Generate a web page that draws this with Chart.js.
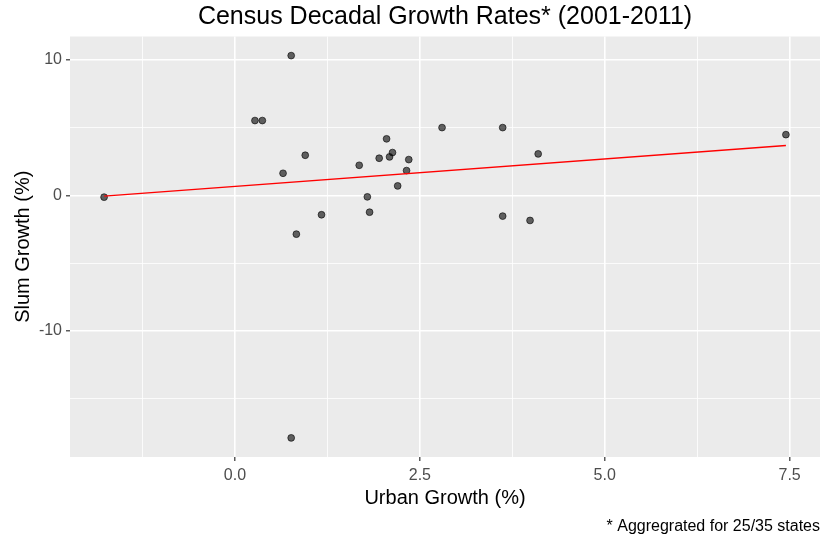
<!DOCTYPE html>
<html>
<head>
<meta charset="utf-8">
<script src="https://cdn.jsdelivr.net/npm/chart.js@4.4.1/dist/chart.umd.min.js"></script>
<style>
  html, body { margin: 0; padding: 0; background: #fff; }
</style>
</head>
<body>
<canvas id="chart" width="820" height="543"></canvas>
<script>
// state-level decadal growth, 2001-2011 (%)
const urbanGrowth = [-1.77, 0.76, 0.27, 0.37, 0.95, 0.65, 1.17, 0.83, 0.76, 1.68, 2.05, 1.95, 2.09,
                     2.13, 2.35, 2.32, 2.20, 1.79, 1.82, 2.80, 3.62, 3.62, 4.10, 3.99, 7.45];
const slumGrowth  = [-0.12, 10.32, 5.53, 5.53, 2.97, 1.64, -1.42, -2.85, -17.88, 2.23, 4.18, 2.75, 2.85,
                     3.17, 2.65, 1.84, 0.71, -0.10, -1.23, 5.01, 5.01, -1.52, 3.07, -1.84, 4.49];

const xMajor = [0, 2.5, 5, 7.5];
const xMinor = [-1.25, 1.25, 3.75, 6.25];
const yMajor = [-10, 0, 10];
const yMinor = [-15, -5, 5];

const FONT = "'Liberation Sans', Arial, sans-serif";

// least squares fit, drawn over the data range
function fit(xs, ys) {
  const n = xs.length;
  const mx = xs.reduce((a, b) => a + b, 0) / n;
  const my = ys.reduce((a, b) => a + b, 0) / n;
  let sxy = 0, sxx = 0;
  for (let i = 0; i < n; i++) {
    sxy += (xs[i] - mx) * (ys[i] - my);
    sxx += (xs[i] - mx) * (xs[i] - mx);
  }
  const b = sxy / sxx;
  return { a: my - b * mx, b: b };
}
const lm = fit(urbanGrowth, slumGrowth);
const xLo = Math.min(...urbanGrowth), xHi = Math.max(...urbanGrowth);
const yLo = Math.min(...slumGrowth), yHi = Math.max(...slumGrowth);

// 5% padding on each side of the data, like ggplot
const xPad = (xHi - xLo) * 0.05, yPad = (yHi - yLo) * 0.05;

const points = urbanGrowth.map((x, i) => ({ x: x, y: slumGrowth[i] }));
const fitLine = [xLo, xHi].map(x => ({ x: x, y: lm.a + lm.b * x }));

const panelBg = {
  id: 'panelBg',
  beforeDraw(chart) {
    const { ctx, chartArea: a } = chart;
    ctx.save();
    ctx.fillStyle = '#fff';
    ctx.fillRect(0, 0, chart.width, chart.height);
    ctx.fillStyle = '#EBEBEB';
    ctx.fillRect(a.left, a.top, a.right - a.left, a.bottom - a.top);
    ctx.restore();
  }
};

const isMajor = (list, v) => list.some(m => Math.abs(m - v) < 1e-9);

function gridFor(major) {
  return {
    color: '#ffffff',
    lineWidth: c => isMajor(major, c.tick.value) ? 1.6 : 0.8,
    drawTicks: true,
    tickLength: 4,
    tickWidth: 1.2,
    tickColor: c => isMajor(major, c.tick.value) ? '#333333' : 'rgba(0,0,0,0)'
  };
}

new Chart(document.getElementById('chart'), {
  type: 'scatter',
  data: {
    datasets: [
      {
        type: 'line',
        data: fitLine,
        borderColor: '#FF0000',
        borderWidth: 1.3,
        pointRadius: 0,
        fill: false
      },
      {
        data: points,
        pointRadius: 3.4,
        backgroundColor: 'rgba(0,0,0,0.6)',
        borderColor: 'rgba(0,0,0,0.6)',
        borderWidth: 1
      }
    ]
  },
  options: {
    responsive: false,
    animation: false,
    layout: { padding: 0, autoPadding: false },
    plugins: {
      legend: { display: false },
      tooltip: { enabled: false },
      title: {
        display: true,
        fullSize: false,
        text: 'Census Decadal Growth Rates* (2001-2011)',
        color: '#000',
        font: { family: FONT, size: 25, weight: 'normal' },
        padding: { top: 2, bottom: 4.5 }
      },
      subtitle: {
        display: true,
        position: 'bottom',
        align: 'end',
        text: '* Aggregrated for 25/35 states',
        color: '#000',
        font: { family: FONT, size: 16 },
        padding: { top: 0, bottom: 7 }
      }
    },
    scales: {
      x: {
        type: 'linear',
        min: xLo - xPad,
        max: xHi + xPad,
        afterBuildTicks: s => { s.ticks = xMajor.concat(xMinor).sort((p, q) => p - q).map(v => ({ value: v })); },
        afterFit: s => { s.height = 59.8; },
        border: { display: false },
        grid: gridFor(xMajor),
        ticks: {
          autoSkip: false,
          maxRotation: 0,
          padding: 5,
          color: '#4D4D4D',
          font: { family: FONT, size: 16 },
          callback: v => isMajor(xMajor, v) ? v.toFixed(1) : ''
        },
        title: {
          display: true,
          text: 'Urban Growth (%)',
          color: '#000',
          font: { family: FONT, size: 20 },
          padding: { top: 0, bottom: 6.3 }
        }
      },
      y: {
        type: 'linear',
        min: yLo - yPad,
        max: yHi + yPad,
        afterBuildTicks: s => { s.ticks = yMajor.concat(yMinor).sort((p, q) => p - q).map(v => ({ value: v })); },
        afterFit: s => { s.width = 70; },
        border: { display: false },
        grid: gridFor(yMajor),
        ticks: {
          autoSkip: false,
          padding: 4,
          color: '#4D4D4D',
          font: { family: FONT, size: 16 },
          callback: v => isMajor(yMajor, v) ? String(v) : ''
        },
        title: {
          display: true,
          text: 'Slum Growth (%)',
          color: '#000',
          font: { family: FONT, size: 20 },
          padding: { top: 11, bottom: 0 }
        }
      }
    }
  },
  plugins: [panelBg]
});
</script>
</body>
</html>
